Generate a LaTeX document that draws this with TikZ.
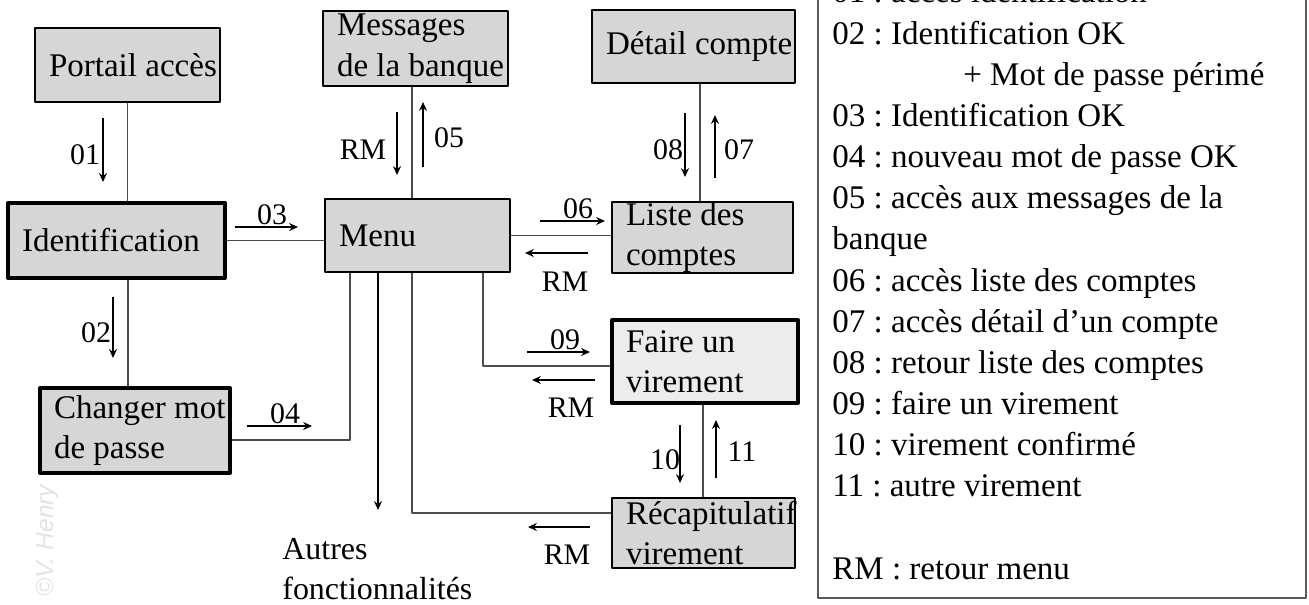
\documentclass[tikz,border=0pt]{standalone}
\usepackage{fontspec}
\setmainfont{Liberation Serif}
\newfontfamily\marquefont{Liberation Sans}
\usetikzlibrary{arrows.meta}
\frenchspacing
\hyphenpenalty=10000
\exhyphenpenalty=10000
\tikzset{
	ecran/.style={draw, fill=gray!32, line width=1.1pt, align=flush left, inner xsep=0.28cm, inner ysep=0pt, font=\fontsize{18.8}{23}\selectfont},
	ecranfort/.style={ecran, line width=2.3pt},
	lien/.style={gray!60!black, line width=0.7pt},
	fleche/.style={->, line width=1.1pt},
	etiq/.style={font=\fontsize{17}{20}\selectfont, inner sep=0pt},
	legende/.style={anchor=base west, inner sep=0pt, font=\fontsize{18.8}{23}\selectfont}
}
\begin{document}
\begin{tikzpicture}[x=0.02cm, y=-0.02cm, >={Stealth[length=5pt,width=4.5pt]}, line join=round]
	\useasboundingbox (0,0) rectangle (1309,605);
	\clip (0,0) rectangle (1309,605);
	% --- Écrans ---
	\node[ecran, text width=3.14cm, minimum height=1.48cm] (portail) at (127.5,65) {\mbox{Portail accès}};
	\node[ecranfort, text width=3.78cm, minimum height=1.5cm] (ident) at (116.5,240.5) {Identification};
	\node[ecranfort, text width=3.24cm, minimum height=1.7cm] (changer) at (135,430.5) {\mbox{Changer mot}\\de passe};
	\node[ecran, text width=3.14cm, minimum height=1.5cm] (messages) at (415.5,48.5) {Messages\\\mbox{de la banque}};
	\node[ecran, line width=0.85pt, text width=3.14cm, minimum height=1.46cm] (menu) at (417.5,235.5) {Menu};
	\node[ecran, text width=3.5cm, minimum height=1.46cm] (detail) at (693.5,46.5) {\mbox{Détail compte}};
	\node[ecran, text width=3.06cm, minimum height=1.42cm] (liste) at (702.5,237.5) {Liste des\\comptes};
	\node[ecranfort, fill=gray!15, text width=3.16cm, minimum height=1.66cm] (faire) at (705,361.5) {Faire un\\virement};
	\node[ecran, line width=0.8pt, text width=3.1cm, minimum height=1.4cm] (recap) at (703.5,533) {Récapitulatif\\virement};
	% --- Liaisons ---
	\draw[lien] (portail.south) -- (portail.south |- ident.north);
	\draw[lien] (128,0 |- ident.south) -- (128,0 |- changer.north);
	\draw[lien] (ident.east) -- (ident.east -| menu.west);
	\draw[lien] (changer.east |- 0,440) -| (350,0 |- menu.south);
	\draw[lien] (412,0 |- messages.south) -- (412,0 |- menu.north);
	\draw[lien] (menu.east) -- (menu.east -| liste.west);
	\draw[lien] (700,0 |- detail.south) -- (700,0 |- liste.north);
	\draw[lien] (483,0 |- menu.south) |- (faire.west |- 0,366);
	\draw[lien] (412,0 |- menu.south) |- (recap.west |- 0,513);
	\draw[lien] (703,0 |- faire.south) -- (703,0 |- recap.north);
	\coordinate (autres) at (378,510);
	\draw[fleche] (378,0 |- menu.south) -- (autres);
	\node[anchor=north west, align=flush left, inner sep=0pt, font=\fontsize{18.2}{23}\selectfont] (autrestxt) at (282,538) {Autres\\fonctionnalités};
	% --- Flux ---
	\draw[fleche] (103,118) -- (103,182);
	\node[etiq] (e01) at (85,155) {01};
	\draw[fleche] (113,297) -- (113,358);
	\node[etiq] (e02) at (96,333) {02};
	\draw[fleche] (235,227) -- (298,227);
	\node[etiq] (e03) at (272,215) {03};
	\draw[fleche] (247,426) -- (312,426);
	\node[etiq] (e04) at (285,414) {04};
	\draw[fleche] (397,112) -- (397,175);
	\node[etiq] (rm1) at (363,150) {RM};
	\draw[fleche] (423,167) -- (423,102);
	\node[etiq] (e05) at (449,138) {05};
	\draw[fleche] (540,221) -- (605,221);
	\node[etiq] (e06) at (578,209) {06};
	\draw[fleche] (588,253) -- (525,253);
	\node[etiq] (rm2) at (565,282) {RM};
	\draw[fleche] (685,113) -- (685,177);
	\node[etiq] (e08) at (668,150) {08};
	\draw[fleche] (715,178) -- (715,115);
	\node[etiq] (e07) at (739,150) {07};
	\draw[fleche] (527,352) -- (590,352);
	\node[etiq] (e09) at (565,340) {09};
	\draw[fleche] (595,380) -- (532,380);
	\node[etiq] (rm3) at (571,408) {RM};
	\draw[fleche] (680,425) -- (680,483);
	\node[etiq] (e10) at (665,460) {10};
	\draw[fleche] (716,478) -- (716,420);
	\node[etiq] (e11) at (742,452) {11};
	\draw[fleche] (590,527) -- (528,527);
	\node[etiq] (rm4) at (567,555) {RM};
	% --- Légende ---
	\draw[gray!70!black, line width=0.6pt] (818,-10) rectangle (1306,598);
	\foreach \k/\ligne in {0/01 : accès identification, 1/02 : Identification OK, 3/03 : Identification OK, 4/04 : nouveau mot de passe OK, 5/05 : accès aux messages de la, 6/banque, 7/06 : accès liste des comptes, 8/07 : accès détail d’un compte, 9/08 : retour liste des comptes, 10/09 : faire un virement, 11/10 : virement confirmé, 12/11 : autre virement, 14/RM : retour menu}
		\node[legende] (leg\k) at (832,{3+41.15*\k}) {\ligne};
	\node[legende] (leg2) at (963,85.3) {+ Mot de passe périmé};
	\node[rotate=90, anchor=west, text=gray!22, font=\marquefont\itshape\fontsize{14}{14}\selectfont] (marque) at (47,603) {©V. Henry};
\end{tikzpicture}
\end{document}
